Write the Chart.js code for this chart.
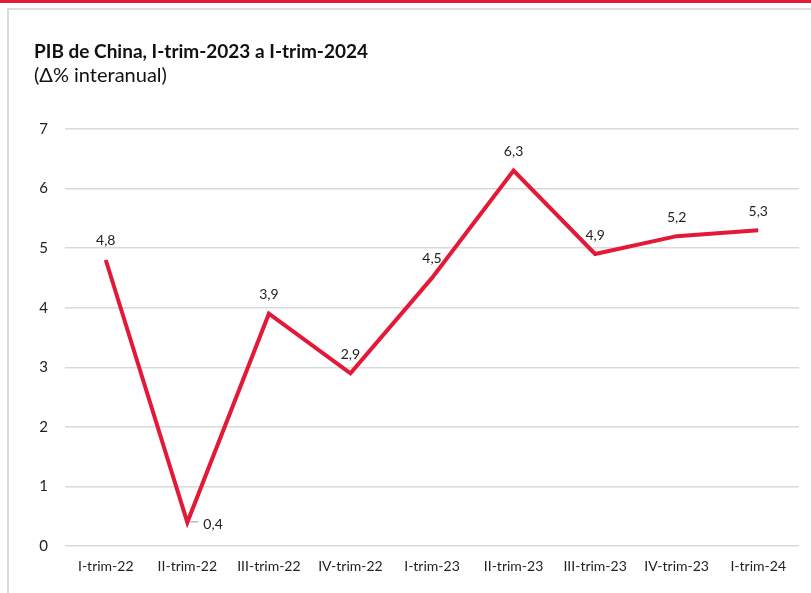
<!DOCTYPE html>
<html>
<head>
<meta charset="utf-8">
<script src="https://cdn.jsdelivr.net/npm/chart.js@4.4.1/dist/chart.umd.min.js"></script>
<style>
  html, body { margin: 0; padding: 0; background: #fff; }
  #wrap { position: relative; width: 811px; height: 593px; overflow: hidden; }
  #redbar { position: absolute; left: 0; top: 0; width: 811px; height: 3px; background: #e31937; }
  #frame { position: absolute; left: 7px; top: 8px; width: 820px; height: 620px; border-left: 2px solid #dcdcdc; border-top: 2px solid #dcdcdc; }
  canvas { position: absolute; left: 0; top: 0; }
</style>
</head>
<body>
<div id="wrap">
  <div id="redbar"></div>
  <div id="frame"></div>
  <canvas id="c" width="811" height="593"></canvas>
</div>
<script>
const categories = ["I-trim-22", "II-trim-22", "III-trim-22", "IV-trim-22", "I-trim-23", "II-trim-23", "III-trim-23", "IV-trim-23", "I-trim-24"];
const pibValues = [4.8, 0.4, 3.9, 2.9, 4.5, 6.3, 4.9, 5.2, 5.3];
const yTicks = [0, 1, 2, 3, 4, 5, 6, 7];
const titleText = "PIB de China, I-trim-2023 a I-trim-2024";
const subtitleText = "(Δ% interanual)";

const FONT = "Lato, 'Open Sans', sans-serif";
const RED = "#e31937";

const valueLabels = {
  id: 'valueLabels',
  afterDatasetsDraw(chart) {
    const ctx = chart.ctx;
    const meta = chart.getDatasetMeta(0);
    ctx.save();
    ctx.font = "14px " + FONT;
    ctx.fillStyle = "#222";
    ctx.textBaseline = "middle";
    meta.data.forEach((pt, i) => {
      const txt = pibValues[i].toFixed(1).replace('.', ',');
      if (i === 1) {
        ctx.strokeStyle = "#999";
        ctx.lineWidth = 1;
        ctx.beginPath();
        ctx.moveTo(pt.x + 3, pt.y - 0.5);
        ctx.lineTo(pt.x + 11, pt.y - 0.5);
        ctx.stroke();
        ctx.textAlign = "left";
        ctx.fillText(txt, pt.x + 16, pt.y + 2);
      } else {
        ctx.textAlign = "center";
        ctx.fillText(txt, pt.x, pt.y - 19);
      }
    });
    ctx.restore();
  }
};

new Chart(document.getElementById('c'), {
  type: 'line',
  data: {
    labels: categories,
    datasets: [{
      data: pibValues,
      borderColor: RED,
      borderWidth: 4,
      pointRadius: 0,
      tension: 0,
      fill: false
    }]
  },
  options: {
    responsive: false,
    animation: false,
    devicePixelRatio: 1,
    layout: { padding: { left: 34, right: 12, top: 0, bottom: 6 } },
    plugins: {
      legend: { display: false },
      tooltip: { enabled: false },
      title: {
        display: true,
        text: titleText,
        align: 'start',
        color: '#111',
        font: { family: FONT, size: 19, weight: 'bold' },
        padding: { top: 40, bottom: 0 }
      },
      subtitle: {
        display: true,
        text: subtitleText,
        align: 'start',
        color: '#111',
        font: { family: FONT, size: 20 },
        padding: { top: 1, bottom: 41 }
      }
    },
    scales: {
      x: {
        offset: true,
        grid: { display: false, drawTicks: false },
        border: { display: false },
        ticks: { color: '#222', font: { family: FONT, size: 14 }, padding: 12, maxRotation: 0, autoSkip: false }
      },
      y: {
        min: 0,
        max: 7,
        afterBuildTicks(scale) { scale.ticks = yTicks.map(v => ({ value: v })); },
        afterFit(scale) { scale.width = 31; },
        grid: { color: '#d9d9d9', lineWidth: 1.5, drawTicks: false },
        border: { display: false },
        ticks: { color: '#222', font: { family: FONT, size: 15 }, padding: 17 }
      }
    }
  },
  plugins: [valueLabels]
});
</script>
</body>
</html>
